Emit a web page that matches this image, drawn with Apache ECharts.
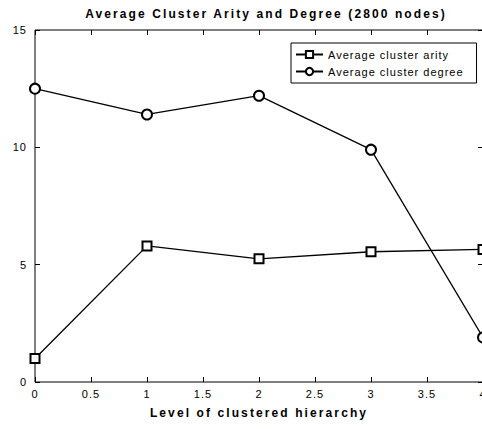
<!DOCTYPE html>
<html><head><meta charset="utf-8">
<script src="https://cdn.jsdelivr.net/npm/echarts@6/dist/echarts.min.js"></script>
<style>html,body{margin:0;padding:0;background:#fff}#c{width:482px;height:429px}</style>
</head><body><div id="c"></div>
<script>
const levels = [0, 1, 2, 3, 4];
const arity = [1.0, 5.8, 5.25, 5.55, 5.65];
const degree = [12.5, 11.4, 12.2, 9.9, 1.9];
const seriesNames = ['Average cluster arity', 'Average cluster degree'];
const titleText = 'Average Cluster Arity and Degree (2800 nodes)';
const xName = 'Level of clustered hierarchy';

const font = 'Liberation Sans, Arial, sans-serif';
const chart = echarts.init(document.getElementById('c'), null, {renderer: 'svg'});
const plotW = 448, plotH = 352;
const gridBox = {left: 35, top: 30, width: plotW, height: plotH, containLabel: false, outerBoundsMode: 'none'};
const noLine = {show: false};
const tick = {show: true, length: 5, lineStyle: {color: '#000', width: 1}};
const noTick = {show: false};
const noLabel = {show: false};
const xBase = {type: 'value', min: 0, max: 4, interval: 0.5, splitLine: {show: false}};
const yBase = {type: 'value', min: 0, max: 15, interval: 5, splitLine: {show: false}};
chart.setOption({
  animation: false,
  backgroundColor: '#fff',
  title: {text: titleText, left: 261, textAlign: 'center', top: 3,
    textStyle: {fontFamily: font, fontSize: 12, fontWeight: 'bold', color: '#000'}},
  grid: [
    Object.assign({}, gridBox, {show: true, borderColor: '#000', borderWidth: 1, backgroundColor: 'transparent'}),
    Object.assign({}, gridBox, {show: false}),
    Object.assign({}, gridBox, {show: false, top: 20, height: 10})
  ],
  legend: {
    orient: 'vertical', left: 291, top: 43, itemWidth: 27, itemHeight: 9, itemGap: 6,
    padding: [6, 35, 6, 4],
    borderColor: '#000', borderWidth: 1, backgroundColor: '#fff',
    textStyle: {fontFamily: font, fontSize: 11, color: '#000'},
    data: seriesNames
  },
  xAxis: [
    Object.assign({}, xBase, {
      gridIndex: 0, position: 'bottom', name: xName, nameLocation: 'middle', nameGap: 25,
      nameTextStyle: {fontFamily: font, fontSize: 12, fontWeight: 'bold', color: '#000'},
      axisLine: noLine, axisTick: noTick,
      axisLabel: {fontFamily: font, fontSize: 11, color: '#000', margin: 6}
    }),
    Object.assign({}, xBase, {gridIndex: 1, position: 'top', offset: -plotH, axisLine: noLine, axisTick: tick, axisLabel: noLabel}),
    Object.assign({}, xBase, {gridIndex: 2, position: 'bottom', axisLine: noLine, axisTick: tick, axisLabel: noLabel})
  ],
  yAxis: [
    Object.assign({}, yBase, {gridIndex: 0, position: 'left', axisLine: noLine,
      axisTick: Object.assign({}, tick, {inside: true}),
      axisLabel: {fontFamily: font, fontSize: 11, color: '#000', margin: 8}}),
    Object.assign({}, yBase, {gridIndex: 1, position: 'left', offset: -plotW, axisLine: noLine, axisTick: tick, axisLabel: noLabel}),
    Object.assign({}, yBase, {gridIndex: 2, show: false})
  ],
  series: [{
    name: seriesNames[0], type: 'line', xAxisIndex: 0, yAxisIndex: 0,
    data: levels.map((x, i) => [x, arity[i]]),
    symbol: 'emptyRect', symbolSize: 9, clip: false,
    lineStyle: {color: '#000', width: 1.3}, itemStyle: {color: '#000', borderColor: '#000', borderWidth: 1.3}
  }, {
    name: seriesNames[1], type: 'line', xAxisIndex: 0, yAxisIndex: 0,
    data: levels.map((x, i) => [x, degree[i]]),
    symbol: 'emptyCircle', symbolSize: 10, clip: false,
    lineStyle: {color: '#000', width: 1.3}, itemStyle: {color: '#000', borderColor: '#000', borderWidth: 1.3}
  }]
});
function spaceText() {
  document.querySelectorAll('#c text').forEach(t => {
    const s = t.textContent;
    t.setAttribute('letter-spacing', (s === titleText || s === xName) ? '2.1' : '1');
  });
}
spaceText();
chart.on('finished', spaceText);
</script></body></html>
